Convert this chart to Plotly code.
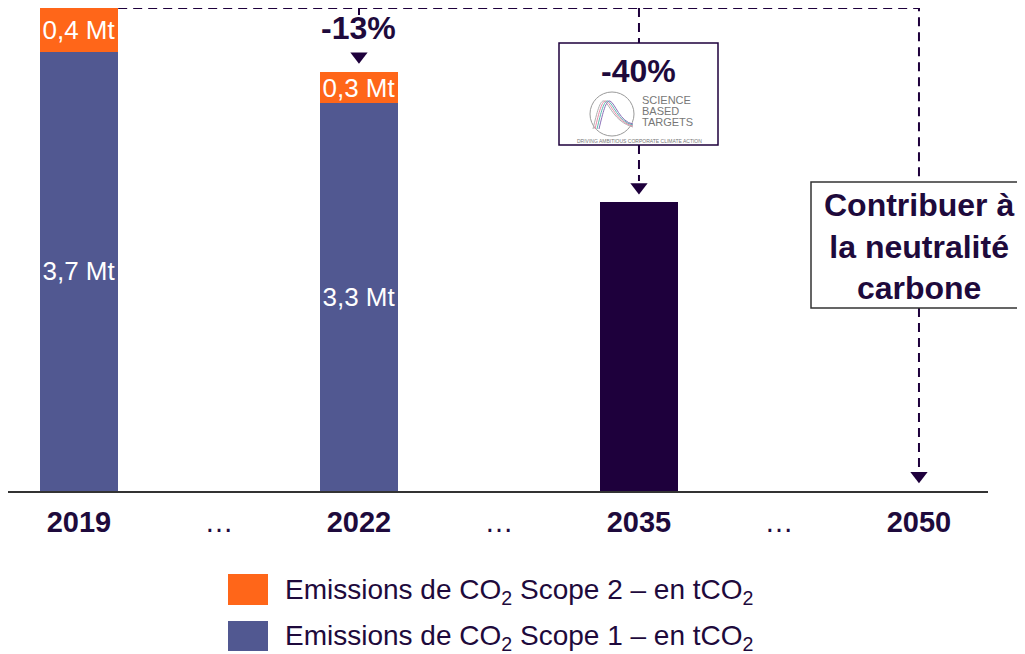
import plotly.graph_objects as go

# data (Mt CO2)
years = ["2019", "2022", "2035", "2050"]
tick_text = ["<b>2019</b>", "…", "<b>2022</b>", "…", "<b>2035</b>", "…", "<b>2050</b>"]
scope1 = [3.73, 3.29]
scope2 = [0.37, 0.27]
scope1_labels = ["3,7 Mt", "3,3 Mt"]
scope2_labels = ["0,4 Mt", "0,3 Mt"]
target_2035 = [2.45]
target_2050 = [0.0]
reduction_labels = ["-13%", "-40%"]

ORANGE = "#FF6619"
BLUE = "#515891"
DARK = "#1E003C"
TXT = "#1E0A3C"
FONT = "Liberation Sans, Arial, sans-serif"

# geometry: page body adds an 8px offset, so helpers take screen pixels
OFF = 8
W, H = 1017, 646
PW, PH = 980, 483
L, T = 0, 0
R, B = W - L - PW, H - T - PH
YMAX = PH / 117.8
XMIN, XMAX = -0.507, 6.493


def yd(sy):  # screen pixel -> data y
    return (PH - (sy - OFF - T)) / PH * YMAX


def px(sx):  # screen pixel -> paper x
    return (sx - OFF - L) / PW


def py(sy):  # screen pixel -> paper y
    return (PH - (sy - OFF - T)) / PH


pos = [0, 2, 4, 6]  # x index of each year

fig = go.Figure()
fig.add_trace(go.Bar(
    x=pos[:2], y=scope1, text=scope1_labels, marker_color=BLUE, width=0.56,
    name="Scope 1", showlegend=False,
))
fig.add_trace(go.Bar(
    x=pos[:2], y=scope2, text=scope2_labels, marker_color=ORANGE, width=0.56,
    name="Scope 2", showlegend=False,
))
fig.add_trace(go.Bar(
    x=[pos[2]], y=target_2035, marker_color=DARK, width=0.56,
    name="2035", showlegend=False,
))
fig.update_traces(
    textposition="inside", insidetextanchor="middle", textangle=0,
    constraintext="none", insidetextfont=dict(color="white", size=26, family=FONT),
    marker_line_width=0, hoverinfo="skip",
)

# arrow heads above each target
top2019 = scope1[0] + scope2[0]
tops = [scope1[1] + scope2[1], target_2035[0], target_2050[0]]
fig.add_trace(go.Scatter(
    x=pos[1:], y=[t + 0.13 for t in tops], mode="markers",
    marker=dict(symbol="triangle-down", size=15, color=DARK),
    showlegend=False, hoverinfo="skip",
))

dash = dict(color=DARK, width=2, dash="9px,6px")
shapes = [
    dict(type="path", xref="x", yref="y", line=dash,
         path=f"M 0.28,{top2019} L 6,{top2019} L 6,{yd(182)}"),
    dict(type="line", xref="x", yref="y", x0=2, x1=2, y0=top2019, y1=yd(15), line=dash),
    dict(type="line", xref="x", yref="y", x0=4, x1=4, y0=top2019, y1=yd(43), line=dash),
    dict(type="line", xref="x", yref="y", x0=4, x1=4, y0=yd(145), y1=yd(181), line=dash),
    dict(type="line", xref="x", yref="y", x0=6, x1=6, y0=yd(308), y1=yd(468), line=dash),
    # boxes
    dict(type="rect", xref="paper", yref="paper", x0=px(559), x1=px(718), y0=py(43), y1=py(145),
         line=dict(color=DARK, width=1.5), fillcolor="white"),
    dict(type="rect", xref="paper", yref="paper", x0=px(811), x1=px(1023), y0=py(182), y1=py(308),
         line=dict(color="#333333", width=1.5), fillcolor="white"),
    # SBT logo circle
    dict(type="circle", xref="paper", yref="paper", x0=px(590), x1=px(634), y0=py(92), y1=py(136),
         line=dict(color="#9a9a9a", width=1)),
    # orange corner arc
    dict(type="circle", xref="paper", yref="paper", x0=px(990), x1=px(1070), y0=py(-76), y1=py(4),
         line=dict(color="#F98A1E", width=4)),
    # legend swatches
    dict(type="rect", xref="paper", yref="paper", x0=px(228), x1=px(268), y0=py(574), y1=py(605),
         line_width=0, fillcolor=ORANGE),
    dict(type="rect", xref="paper", yref="paper", x0=px(228), x1=px(268), y0=py(621), y1=py(651),
         line_width=0, fillcolor=BLUE),
]

# logo curves
for dx, color in [(-2, "#b0b0b0"), (0, "#e88aa8"), (2, "#5bb8b0"), (4, "#8b6fb8")]:
    pts = [(595 + dx, 129), (599 + dx, 112), (602 + dx, 100), (606 + dx, 101),
           (611 + dx, 103), (616 + dx, 122), (633, 126 - dx / 2)]
    path = "M {},{} C {},{} {},{} {},{} C {},{} {},{} {},{}".format(
        *[v for p in pts for v in (px(p[0]), py(p[1]))])
    shapes.append(dict(type="path", xref="paper", yref="paper", path=path,
                       line=dict(color=color, width=1)))


def note(x, y, text, size, color=TXT, xanchor="center", xref="paper", yref="paper"):
    return dict(x=x, y=y, xref=xref, yref=yref, text=text, showarrow=False,
                xanchor=xanchor, yanchor="middle", align="center",
                font=dict(size=size, color=color))


annotations = [
    note(2, yd(28), f"<b>{reduction_labels[0]}</b>", 32, xref="x", yref="y"),
    note(4, yd(71), f"<b>{reduction_labels[1]}</b>", 32, xref="x", yref="y"),
    note(6, yd(246), "<b>Contribuer à<br>la neutralité<br>carbone</b>", 32, xref="x", yref="y"),
    note(px(283), py(591), "Emissions de CO<sub>2</sub> Scope 2 – en tCO<sub>2</sub>", 28,
         xanchor="left"),
    note(px(283), py(637), "Emissions de CO<sub>2</sub> Scope 1 – en tCO<sub>2</sub>", 28,
         xanchor="left"),
]
for i, word in enumerate(["SCIENCE", "BASED", "TARGETS"]):
    annotations.append(note(px(640), py(100 + 11 * i), word, 11, color="#777777",
                            xanchor="left"))
annotations.append(note(px(639), py(141), "DRIVING AMBITIOUS CORPORATE CLIMATE ACTION", 5,
                        color="#777777"))

fig.update_layout(
    width=W, height=H,
    margin=dict(l=L, r=R, t=T, b=B, pad=0),
    barmode="stack",
    paper_bgcolor="white", plot_bgcolor="white",
    font=dict(family=FONT, color=TXT),
    shapes=shapes, annotations=annotations,
    xaxis=dict(
        range=[XMIN, XMAX], tickmode="array", tickvals=list(range(7)), ticktext=tick_text,
        tickfont=dict(size=29, color=TXT), ticks="outside", ticklen=4,
        tickcolor="rgba(0,0,0,0)", showline=True, linecolor="#333333", linewidth=2,
        showgrid=False, zeroline=False, fixedrange=True,
    ),
    yaxis=dict(range=[0, YMAX], visible=False, fixedrange=True),
)

fig.write_html("out.html")
